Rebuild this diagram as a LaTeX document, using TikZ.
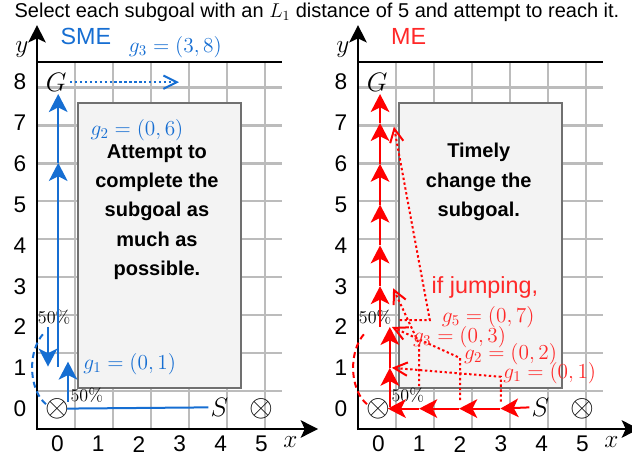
\documentclass[tikz,border=0pt]{standalone}
\usepackage{fix-cm}
\usepackage{fontspec}
\newfontfamily\arialfont{Liberation Sans}
\usetikzlibrary{arrows.meta,calc}
\definecolor{smeblue}{RGB}{22,110,210}
\definecolor{mered}{RGB}{255,0,0}
\definecolor{labred}{RGB}{255,40,40}
\definecolor{gridgray}{RGB}{188,188,188}
\definecolor{boxgray}{RGB}{243,243,243}
\definecolor{boxedge}{RGB}{112,112,112}
\tikzset{
  gridline/.style={draw=gridgray, line width=1.6pt},
  axisline/.style={line width=1.9pt, draw=black},
  axisarrow/.style={axisline, -{Stealth[length=13pt,width=13pt,inset=3pt]}},
  obstacle/.style={fill=boxgray, draw=boxedge, line width=1.5pt},
  ticklab/.style={font=\arialfont\fontsize{17}{20}\selectfont, inner sep=0pt},
  axlab/.style={font=\fontsize{19}{22}\selectfont, inner sep=0pt},
  letterlab/.style={font=\fontsize{20}{24}\selectfont, inner sep=0pt},
  trapsym/.style={font=\fontsize{23}{26}\selectfont, inner sep=0pt},
  pct/.style={font=\fontsize{13.5}{16}\selectfont, inner sep=0pt},
  sublab/.style={font=\fontsize{16}{19}\selectfont, inner sep=0pt},
  boxtext/.style={font=\arialfont\bfseries\fontsize{15}{22}\selectfont, align=center, inner sep=0pt},
  paneltitle/.style={font=\arialfont\fontsize{17.5}{21}\selectfont, inner sep=0pt},
  bpath/.style={draw=smeblue, line width=1.5pt},
  rpath/.style={draw=mered, line width=1.5pt},
  filledtip/.style={-{Stealth[length=13.5pt,width=14pt,inset=3.5pt]}},
  opentip/.style={-{Straight Barb[length=10pt,width=10pt]}},
  dotline/.style={dash pattern=on 1.8pt off 1.9pt},
  dashline/.style={dash pattern=on 4.5pt off 3pt},
}
\newcommand{\panelbase}[1]{%
  \draw[gridline] (0,0) grid (6,9);
  \draw[obstacle] (1,1) rectangle (5,8);
  \draw[axisline] (0,9) -- (6,9);
  \coordinate (#1o) at (0,0);
  \coordinate (#1oy) at (0,-0.03);
  \coordinate (#1ox) at (-0.03,0);
  \coordinate (#1ytip) at (0,9.9);
  \coordinate (#1xtip) at (6.89,0);
  \draw[axisarrow] (#1oy) -- (#1ytip);
  \draw[axisarrow] (#1ox) -- (#1xtip);
  \foreach \k in {0,...,8} {\node[ticklab] (#1ty\k) at (-0.42,\k+0.5) {\k};}
  \foreach \k in {0,...,5} {\node[ticklab] (#1tx\k) at (\k+0.5,-0.37) {\k};}
  \node[axlab] (#1ylab) at (-0.37,9.29) {$y$};
  \node[axlab] (#1xlab) at (6.21,-0.32) {$x$};
  \node[letterlab] (#1G) at (0.47,8.5) {$G$};
  \node[letterlab] (#1S) at (4.47,0.53) {$S$};
  \node[trapsym] (#1trapA) at (0.5,0.5) {$\otimes$};
  \node[trapsym] (#1trapB) at (5.5,0.5) {$\otimes$};
  \node[pct] (#1pctU) at (0.42,2.73) {50\%};
  \node[pct] (#1pctL) at (1.22,0.83) {50\%};
}
\begin{document}
\begin{tikzpicture}[x=0.75pt, y=-0.75pt]
\useasboundingbox (0,0) rectangle (632,459);
\node[font=\arialfont\fontsize{15}{18}\selectfont, anchor=base, inner sep=0pt] (title) at (317,17.3)
  {Select each subgoal with an $L_1$ distance of 5 and attempt to reach it.};

% ---------------- SME panel ----------------
\begin{scope}[shift={(37,429)}, x=30.6pt, y=30.6pt]
  \panelbase{L}
  \node[paneltitle, text=smeblue] (Ltitle) at (1.2,9.62) {SME};
  \node[boxtext] (Lbox) at (2.94,5.32) {Attempt to\\complete the\\subgoal as\\much as\\possible.};
  \coordinate (Lh1) at (0.74,0.5);
  \coordinate (Lu0) at (0.76,0.67);
  \coordinate (Lu1) at (0.76,1.65);
  \coordinate (Ld0) at (0.27,2.51);
  \coordinate (Ld1) at (0.27,1.53);
  \coordinate (Lv0) at (0.52,1.52);
  \coordinate (Lv1) at (0.52,6.52);
  \coordinate (Lv2) at (0.52,8.21);
  \coordinate (Ldot1) at (3.48,8.5);
  \coordinate (Larc0) at (0.144,2.32);
  \draw[bpath] ([xshift=-1.5pt]LS.west) -- (Lh1);
  \draw[bpath, filledtip] (Lu0) -- (Lu1);
  \draw[bpath, filledtip] (Ld0) -- (Ld1);
  \draw[bpath, filledtip] (Lv0) -- (Lv1);
  \draw[bpath, filledtip] (Lv1) -- (Lv2);
  \draw[bpath, dotline, opentip] ([xshift=2.5pt]LG.east) -- (Ldot1);
  \draw[bpath, dashline] (Larc0) arc[start angle=125, end angle=245, x radius=0.62, y radius=1.0];
  \node[sublab, text=smeblue] (Lg3) at (3.39,9.36) {$g_3=(3,8)$};
  \node[sublab, text=smeblue] (Lg2) at (2.45,7.33) {$g_2=(0,6)$};
  \node[sublab, text=smeblue] (Lg1) at (2.27,1.6) {$g_1=(0,1)$};
\end{scope}

% ---------------- ME panel ----------------
\begin{scope}[shift={(358,429)}, x=30.6pt, y=30.6pt]
  \panelbase{R}
  \node[paneltitle, text=labred] (Rtitle) at (1.24,9.62) {ME};
  \node[boxtext] (Rbox) at (2.96,6.05) {Timely\\change the\\subgoal.};
  % bottom path
  \coordinate (Rb3) at (3.49,0.5);
  \coordinate (Rb2) at (2.48,0.5);
  \coordinate (Rb1) at (1.5,0.5);
  \coordinate (Rb0) at (0.73,0.5);
  \draw[rpath, filledtip] ([xshift=-1.5pt]RS.west) -- (Rb3);
  \draw[rpath, filledtip] (Rb3) -- (Rb2);
  \draw[rpath, filledtip] (Rb2) -- (Rb1);
  \draw[rpath, filledtip] (Rb1) -- (Rb0);
  % lower vertical
  \coordinate (Rl0) at (0.78,0.55);
  \coordinate (Rl1) at (0.78,1.5);
  \coordinate (Rl2) at (0.78,2.5);
  \draw[rpath, filledtip] (Rl0) -- (Rl1);
  \draw[rpath, filledtip] (Rl1) -- (Rl2);
  % upper vertical
  \coordinate (Ru2) at (0.54,2.5);
  \coordinate (Ru3) at (0.54,3.5);
  \coordinate (Ru4) at (0.54,4.5);
  \coordinate (Ru5) at (0.54,5.5);
  \coordinate (Ru6) at (0.54,6.5);
  \coordinate (Ru7) at (0.54,7.5);
  \coordinate (Ru8) at (0.54,8.21);
  \draw[rpath, filledtip] (Ru2) -- (Ru3);
  \draw[rpath, filledtip] (Ru3) -- (Ru4);
  \draw[rpath, filledtip] (Ru4) -- (Ru5);
  \draw[rpath, filledtip] (Ru5) -- (Ru6);
  \draw[rpath, filledtip] (Ru6) -- (Ru7);
  \draw[rpath, filledtip] (Ru7) -- (Ru8);
  % dashed arc
  \coordinate (Rarc0) at (0.144,2.32);
  \draw[rpath, dashline] (Rarc0) arc[start angle=125, end angle=245, x radius=0.62, y radius=1.0];
  % dotted subgoal pointers
  \coordinate (Rp1a) at (3.5,0.67);
  \coordinate (Rp1b) at (3.5,1.28);
  \coordinate (Rp1c) at (0.83,1.5);
  \coordinate (Rp2a) at (2.5,0.71);
  \coordinate (Rp2b) at (2.5,1.74);
  \coordinate (Rp2c) at (0.83,2.5);
  \coordinate (Rp3a) at (1.5,1.05);
  \coordinate (Rp3b) at (1.5,2.08);
  \coordinate (Rp3c) at (0.86,3.45);
  \coordinate (Rp5a) at (1.02,2.67);
  \coordinate (Rp5b) at (1.76,2.67);
  \coordinate (Rp5c) at (0.88,7.41);
  \draw[rpath, dotline, opentip] (Rp1a) -- (Rp1b) -- (Rp1c);
  \draw[rpath, dotline, opentip] (Rp2a) -- (Rp2b) -- (Rp2c);
  \draw[rpath, dotline, opentip] (Rp3a) -- (Rp3b) -- (Rp3c);
  \draw[rpath, dotline, opentip] (Rp5a) -- (Rp5b) -- (Rp5c);
  \node[paneltitle, text=labred] (Rjump) at (3.11,3.48) {if jumping,};
  \node[sublab, text=labred] (Rg5) at (3.19,2.75) {$g_5=(0,7)$};
  \node[sublab, text=labred] (Rg3) at (2.49,2.25) {$g_3=(0,3)$};
  \node[sublab, text=labred] (Rg2) at (3.74,1.84) {$g_2=(0,2)$};
  \node[sublab, text=labred] (Rg1) at (4.7,1.37) {$g_1=(0,1)$};
\end{scope}
\end{tikzpicture}
\end{document}
